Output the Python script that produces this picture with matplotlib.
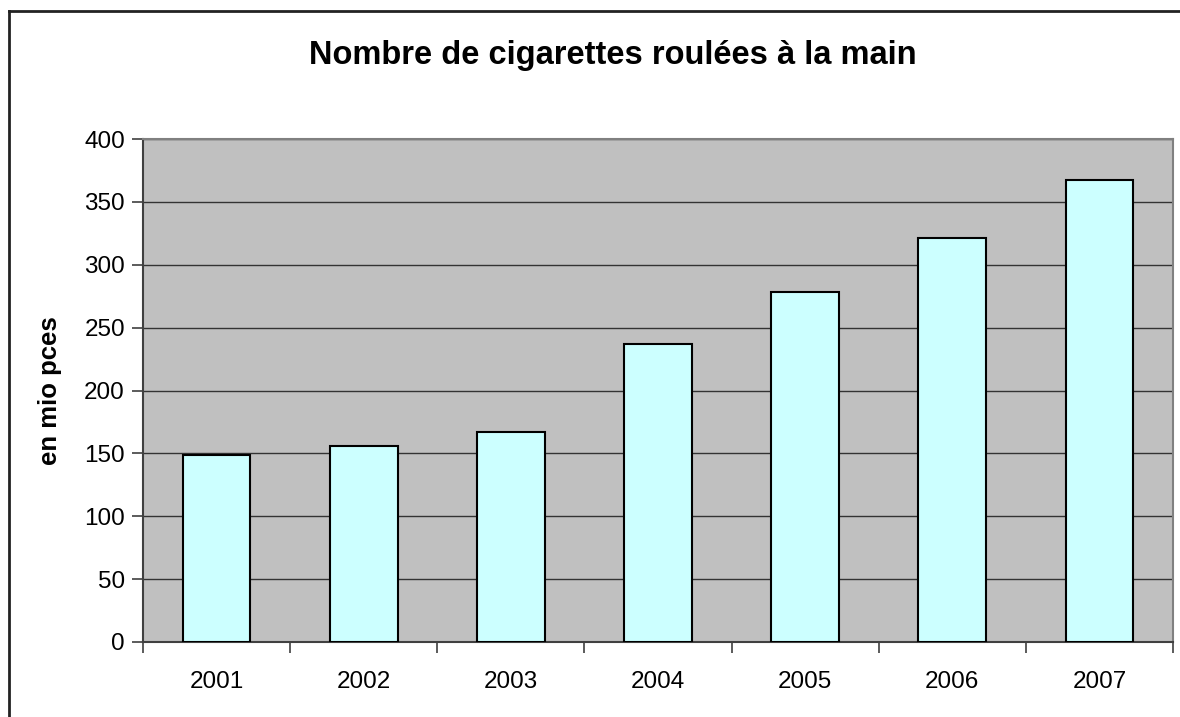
#!/usr/bin/env python

import matplotlib.pyplot as plt
import numpy as np
from matplotlib.lines import Line2D

plt.rcParams["font.family"] = ["Liberation Sans", "DejaVu Sans"]

# data
YEARS = ["2001", "2002", "2003", "2004", "2005", "2006", "2007"]
VALUES = [149, 156, 167, 237, 278, 321, 367]
Y_TICKS = [0, 50, 100, 150, 200, 250, 300, 350, 400]

fig = plt.figure(figsize=(11.8, 7.17), dpi=100)
ax = fig.add_axes([143 / 1180, 1 - 642 / 717, 1030 / 1180, 503 / 717])
ax.set_facecolor("#c0c0c0")

x = np.arange(len(YEARS))
ax.bar(x, VALUES, width=0.46, color="#ccffff", edgecolor="black", linewidth=1.5, zorder=3)

ax.set_xlim(-0.5, len(YEARS) - 0.5)
ax.set_ylim(0, 400)
ax.set_yticks(Y_TICKS)
ax.yaxis.grid(True, color="#333333", linewidth=1.0, zorder=1)
ax.set_axisbelow(True)

# labels centred under bars, tick marks at the category boundaries
ax.set_xticks(x)
ax.set_xticklabels(YEARS, fontsize=17.5)
ax.tick_params(axis="x", which="major", length=0, pad=21)
ax.set_xticks(np.arange(len(YEARS) + 1) - 0.5, minor=True)
ax.tick_params(axis="x", which="minor", length=8, width=1.2, color="#404040")
ax.tick_params(axis="y", labelsize=17.5, length=8, width=1.2, color="#404040", pad=5)

for side in ["left", "bottom"]:
    ax.spines[side].set_color("#404040")
    ax.spines[side].set_linewidth(1.5)
for side in ["top", "right"]:
    ax.spines[side].set_color("#808080")
    ax.spines[side].set_linewidth(1.5)

ax.set_ylabel("en mio pces", fontsize=18.5, fontweight="bold", labelpad=16)

fig.text(0.519, 0.923, "Nombre de cigarettes roulées à la main",
         ha="center", va="center", fontsize=23.5, fontweight="bold")

# chart area border (cut off at right and bottom)
x0, y0 = 9 / 1180, 1 - 11 / 717
fig.add_artist(Line2D([x0, 1.0], [y0, y0], color="#222222", linewidth=2, transform=fig.transFigure))
fig.add_artist(Line2D([x0, x0], [0.0, y0], color="#222222", linewidth=2, transform=fig.transFigure))

fig.savefig("out.png", dpi=100, facecolor="white")
